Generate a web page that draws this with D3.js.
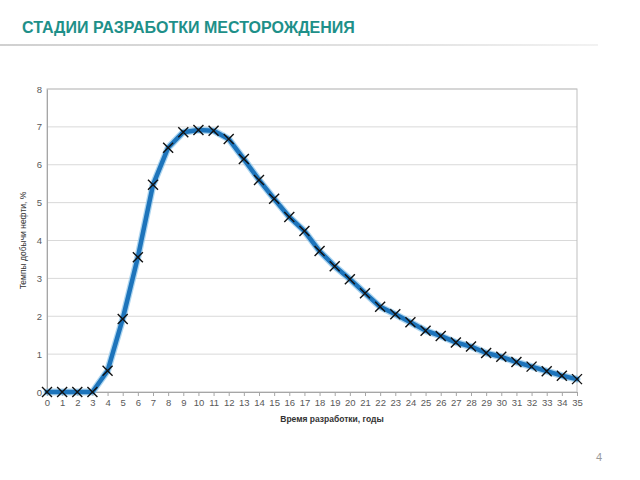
<!DOCTYPE html>
<html><head><meta charset="utf-8">
<script src="https://cdn.jsdelivr.net/npm/d3@7"></script>
<style>body{margin:0;background:#fff;} svg{display:block;}</style>
</head><body>
<svg id="c" width="640" height="480"></svg>
<script>
const title = "СТАДИИ РАЗРАБОТКИ МЕСТОРОЖДЕНИЯ";
const xTitle = "Время разработки, годы";
const yTitle = "Темпы добычи нефти, %";
const years = d3.range(0, 36);
const rates = [0,0,0,0,0.56,1.93,3.56,5.47,6.45,6.86,6.92,6.9,6.68,6.15,5.6,5.1,4.62,4.25,3.72,3.32,2.98,2.61,2.25,2.05,1.84,1.62,1.48,1.31,1.2,1.03,0.93,0.79,0.67,0.55,0.43,0.34];
const yTicks = d3.range(0, 9);

const svg = d3.select("#c");
// title
svg.append("text").attr("x", 22).attr("y", 33)
  .attr("font-family", "Liberation Sans, Arial, sans-serif").attr("font-weight", "bold")
  .attr("font-size", 16).attr("fill", "#1e9089").text(title);
const grad = svg.append("defs").append("linearGradient").attr("id", "sep");
grad.append("stop").attr("offset", "0%").attr("stop-color", "#d0d0d0");
grad.append("stop").attr("offset", "70%").attr("stop-color", "#e4e4e4");
grad.append("stop").attr("offset", "100%").attr("stop-color", "#f2f2f2");
svg.append("rect").attr("x", 0).attr("y", 44).attr("width", 598).attr("height", 2).attr("fill", "url(#sep)");

const L = 47, R = 577, T = 89, B = 392;
const x = d3.scaleLinear().domain([0, 35]).range([L, R]);
const y = d3.scaleLinear().domain([0, 8]).range([B, T]);

const g = svg.append("g");
// gridlines
g.selectAll("line.grid").data(yTicks.slice(1)).join("line")
  .attr("x1", L).attr("x2", R).attr("y1", d => y(d)).attr("y2", d => y(d))
  .attr("stroke", "#d9d9d9").attr("stroke-width", 1);
// border
g.append("rect").attr("x", L).attr("y", T).attr("width", R - L).attr("height", B - T)
  .attr("fill", "none").attr("stroke", "#bfbfbf").attr("stroke-width", 1);

// axes
const xAxis = g.append("g").attr("transform", `translate(0,${B})`)
  .call(d3.axisBottom(x).tickValues(years).tickFormat(d3.format("d")).tickSize(4).tickPadding(3));
const yAxis = g.append("g").attr("transform", `translate(${L},0)`)
  .call(d3.axisLeft(y).tickValues(yTicks).tickFormat(d3.format("d")).tickSize(0).tickPadding(5));
[xAxis, yAxis].forEach(a => {
  a.select(".domain").attr("stroke", "#a6a6a6");
  a.selectAll(".tick line").attr("stroke", "#a6a6a6");
  a.selectAll("text").attr("font-family", "Liberation Sans, Arial, sans-serif").attr("font-size", 9.5).attr("fill", "#595959");
});

// axis titles
svg.append("text").attr("x", 332).attr("y", 422).attr("text-anchor", "middle")
  .attr("font-family", "Liberation Sans, Arial, sans-serif").attr("font-size", 8.5).attr("font-weight", "bold").attr("fill", "#333")
  .text(xTitle);
svg.append("text").attr("transform", `translate(26,${(T + B) / 2}) rotate(-90)`).attr("text-anchor", "middle")
  .attr("font-family", "Liberation Sans, Arial, sans-serif").attr("font-size", 8.5).attr("fill", "#333")
  .text(yTitle);

const data = years.map((d, i) => ({x: d, y: rates[i]}));
const line = d3.line().x(d => x(d.x)).y(d => y(d.y));
g.append("path").datum(data).attr("d", line).attr("fill", "none")
  .attr("stroke", "#8cc4ea").attr("stroke-width", 7).attr("stroke-linejoin", "round").attr("stroke-linecap", "round").attr("opacity", 0.7);
g.append("path").datum(data).attr("d", line).attr("fill", "none")
  .attr("stroke", "#1d74bb").attr("stroke-width", 4.5).attr("stroke-linejoin", "round").attr("stroke-linecap", "round");

const s = 5;
g.selectAll("path.mk").data(data).join("path")
  .attr("d", d => `M${x(d.x)-s},${y(d.y)-s}L${x(d.x)+s},${y(d.y)+s}M${x(d.x)-s},${y(d.y)+s}L${x(d.x)+s},${y(d.y)-s}`)
  .attr("stroke", "#111").attr("stroke-width", 1.4).attr("fill", "none");

svg.append("text").attr("x", 596).attr("y", 461).attr("font-family", "Liberation Sans, Arial, sans-serif")
  .attr("font-size", 11).attr("fill", "#9a9a9a").text("4");
</script>
</body></html>
